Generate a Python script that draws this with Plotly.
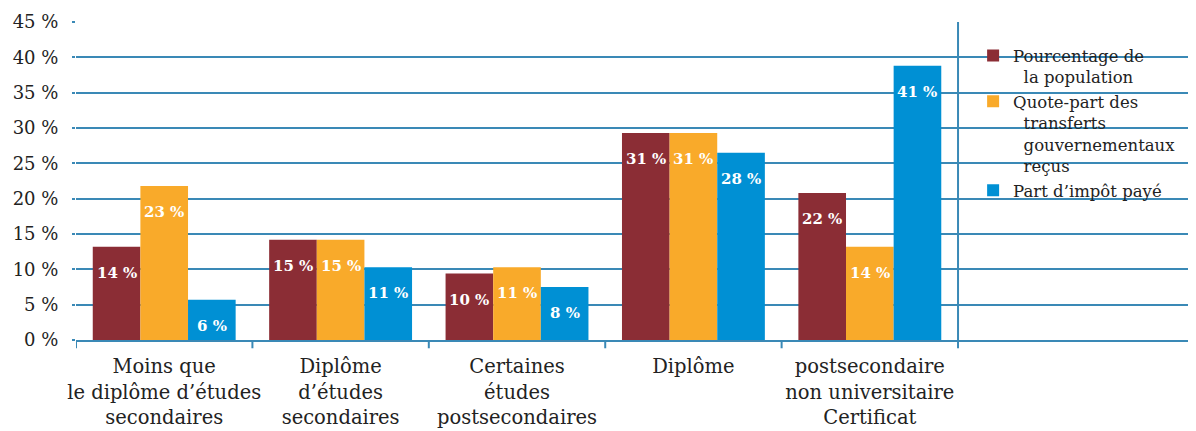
import plotly.graph_objects as go

categories = [
    "Moins que<br>le diplôme d’études<br>secondaires",
    "Diplôme<br>d’études<br>secondaires",
    "Certaines<br>études<br>postsecondaires",
    "Diplôme",
    "postsecondaire<br>non universitaire<br>Certificat",
]
series_names = [
    "Pourcentage de<br>  la population",
    "Quote-part des<br>  transferts<br>  gouvernementaux<br>  reçus",
    "Part d’impôt payé",
]
population = [13.2, 14.2, 9.4, 29.3, 20.8]
transferts = [21.8, 14.2, 10.3, 29.3, 13.2]
impot = [5.7, 10.3, 7.5, 26.5, 38.8]
population_labels = ["14 %", "15 %", "10 %", "31 %", "22 %"]
transferts_labels = ["23 %", "15 %", "11 %", "31 %", "14 %"]
impot_labels = ["6 %", "11 %", "8 %", "28 %", "41 %"]
y_ticks = [0, 5, 10, 15, 20, 25, 30, 35, 40, 45]
y_ticktext = [f"{v} %" for v in y_ticks]

colors = ["#8B2D35", "#F9AA2A", "#0090D4"]
grid = "#3A89B6"
font = "DejaVu Serif"
bargap = 0.19

fig = go.Figure()
all_vals = [population, transferts, impot]
all_labels = [population_labels, transferts_labels, impot_labels]
for name, vals, col in zip(series_names, all_vals, colors):
    fig.add_trace(go.Bar(
        name=name, x=list(range(len(categories))), y=vals,
        marker=dict(color=col, line=dict(width=0)),
    ))

# value labels inside bars, near the top
bw = (1 - bargap) / len(all_vals)
for j, (vals, labels) in enumerate(zip(all_vals, all_labels)):
    for i, (v, t) in enumerate(zip(vals, labels)):
        fig.add_annotation(
            x=i + (j - (len(all_vals) - 1) / 2) * bw, y=v, xref="x", yref="y",
            text=t, showarrow=False, yanchor="middle", yshift=-26,
            font=dict(family=font, size=15, color="white", weight="bold"),
        )

fig.add_shape(type="line", xref="x", yref="y", x0=4.5, x1=4.5, y0=0, y1=45,
              line=dict(color=grid, width=2))

fig.update_layout(
    width=1188, height=423,
    margin=dict(l=68, r=0, t=14, b=91, autoexpand=False),
    plot_bgcolor="white", paper_bgcolor="white",
    barmode="group", bargap=bargap, bargroupgap=0,
    font=dict(family=font, size=18, color="#222222"),
    showlegend=True,
    legend=dict(
        x=0.801, xanchor="left", y=0.949, yanchor="top",
        font=dict(family=font, size=16.5, color="#222222"),
        valign="top", itemwidth=30, tracegroupgap=0,
        bgcolor="rgba(0,0,0,0)",
    ),
    xaxis=dict(
        tickmode="array", tickvals=list(range(len(categories))), ticktext=categories,
        range=[-0.5, 5.849], showgrid=False, showline=True, linecolor=grid, linewidth=2,
        ticks="", tickfont=dict(size=19.5), ticklabelstandoff=8, automargin=False,
        fixedrange=True,
    ),
    yaxis=dict(
        range=[0, 45], tickvals=y_ticks, ticktext=y_ticktext,
        showgrid=True, gridcolor=grid, gridwidth=2, zeroline=False,
        ticks="outside", ticklen=3, tickcolor=grid, tickwidth=2,
        ticklabelstandoff=10, tickfont=dict(size=18), automargin=False,
    ),
)
# category boundary ticks
for b in [-0.5, 0.5, 1.5, 2.5, 3.5, 4.5]:
    fig.add_shape(type="line", xref="x", yref="paper", x0=b, x1=b, y0=0, y1=-0.026,
                  line=dict(color=grid, width=2))

fig.write_html("out.html")
